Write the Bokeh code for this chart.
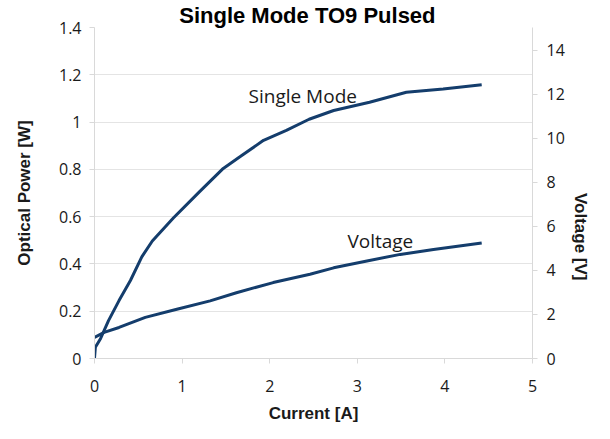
from bokeh.plotting import figure
from bokeh.models import Range1d, LinearAxis, Label, FixedTicker, NumeralTickFormatter
from bokeh.embed import file_html
from bokeh.resources import INLINE

# ---- data ----
sm_current = [0, 0.01, 0.07, 0.16, 0.28, 0.41, 0.54, 0.66, 0.90, 1.20, 1.47, 1.66,
              1.93, 2.19, 2.45, 2.73, 3.14, 3.56, 3.98, 4.42]
sm_power = [0, 0.048, 0.085, 0.16, 0.245, 0.33, 0.43, 0.497, 0.594, 0.706, 0.804, 0.853,
            0.923, 0.965, 1.012, 1.049, 1.084, 1.126, 1.14, 1.158]

v_current = [0, 0.11, 0.28, 0.58, 0.94, 1.32, 1.62, 2.04, 2.46, 2.73, 3.11, 3.49, 3.87, 4.42]
v_voltage = [0.96, 1.19, 1.41, 1.87, 2.24, 2.62, 2.99, 3.45, 3.83, 4.12, 4.43, 4.73, 4.95, 5.25]

x_ticks = [0, 1, 2, 3, 4, 5]
power_ticks = [0, 0.2, 0.4, 0.6, 0.8, 1.0, 1.2, 1.4]
voltage_ticks = [0, 2, 4, 6, 8, 10, 12, 14]

title_text = "Single Mode TO9   Pulsed"
x_label = "Current [A]"
left_label = "Optical Power [W]"
right_label = "Voltage [V]"

LINE = "#143d6c"
GRID = "#e4e4e4"
AXIS = "#d9d9d9"
TXT = "#1a1a1a"

p = figure(width=602, height=431, x_range=Range1d(0, 5), y_range=Range1d(0, 1.4),
           output_backend="svg", toolbar_location=None,
           min_border_left=94, min_border_right=69, min_border_top=25, min_border_bottom=73)
p.extra_y_ranges = {"v": Range1d(0, 15.04)}
p.outline_line_color = None
p.background_fill_color = "white"
p.border_fill_color = "white"
p.xgrid.grid_line_color = None
p.ygrid.grid_line_color = GRID
p.ygrid.grid_line_width = 1

p.title.text = title_text
p.title.align = "center"
p.title.text_font = "Liberation Sans"
p.title.text_font_style = "bold"
p.title.text_font_size = "22px"
p.title.text_color = "black"
p.title.standoff = 0
p.title.offset = -4

rax = LinearAxis(y_range_name="v", ticker=FixedTicker(ticks=voltage_ticks))
p.add_layout(rax, "right")

for ax in (p.xaxis[0], p.yaxis[0], rax):
    ax.axis_line_color = AXIS
    ax.major_tick_line_color = AXIS
    ax.major_tick_out = 5
    ax.major_tick_in = 0
    ax.minor_tick_line_color = None
    ax.major_label_text_font = "Open Sans"
    ax.major_label_text_font_size = "16px"
    ax.major_label_text_color = TXT
    ax.axis_label_text_font = "Liberation Sans"
    ax.axis_label_text_font_style = "bold"
    ax.axis_label_text_font_size = "17px"
    ax.axis_label_text_color = TXT

p.xaxis[0].ticker = FixedTicker(ticks=x_ticks)
p.xaxis[0].axis_label = x_label
p.xaxis[0].major_label_standoff = 16
p.xaxis[0].axis_label_standoff = 9

p.yaxis[0].ticker = FixedTicker(ticks=power_ticks)
p.yaxis[0].formatter = NumeralTickFormatter(format="0.[0]")
p.yaxis[0].axis_label = left_label
p.yaxis[0].major_label_standoff = 8
p.yaxis[0].axis_label_standoff = 22

rax.major_label_standoff = 9
rax.axis_label = right_label
rax.axis_label_standoff = 13
if "axis_label_orientation" in rax.properties():
    rax.axis_label_orientation = -1.5707963267948966

p.line(sm_current, sm_power, line_color=LINE, line_width=3)
p.line(v_current, v_voltage, y_range_name="v", line_color=LINE, line_width=3)

p.add_layout(Label(x=2.377, y=1.109, text="Single Mode", text_align="center",
                   text_baseline="alphabetic", text_font="Open Sans",
                   text_font_size="19px", text_color=TXT))
p.add_layout(Label(x=3.263, y=0.497, text="Voltage", text_align="center",
                   text_baseline="alphabetic", text_font="Open Sans",
                   text_font_size="19px", text_color=TXT))

open("out.html", "w").write(file_html(p, INLINE))
